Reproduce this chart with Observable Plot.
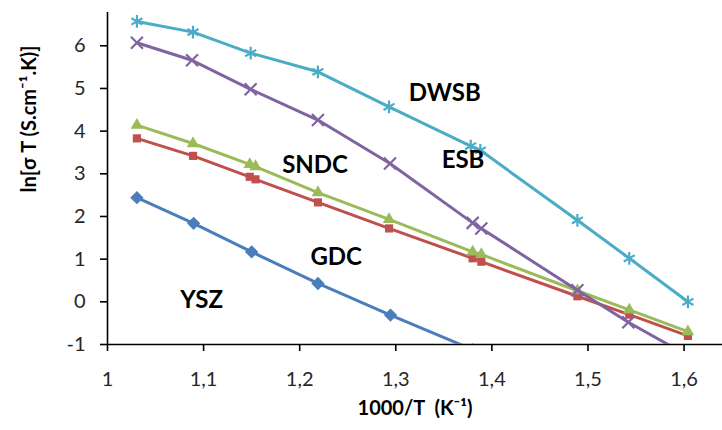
<!DOCTYPE html>
<html>
<head>
<meta charset="utf-8">
<script src="https://cdn.jsdelivr.net/npm/d3@7"></script>
<script src="https://cdn.jsdelivr.net/npm/@observablehq/plot@0.6"></script>
<style>
  html, body { margin: 0; padding: 0; background: #fff; }
</style>
</head>
<body>
<div id="chart"></div>
<script>
// ---- data ----
const xYSZ  = [1.0306, 1.0896, 1.150, 1.219, 1.2945, 1.380];
const ysz   = [2.44, 1.84, 1.17, 0.43, -0.31, -1.12];

const xGDC  = [1.0306, 1.089, 1.148, 1.154, 1.219, 1.293, 1.380, 1.389, 1.489, 1.543, 1.604];
const gdc   = [3.83, 3.42, 2.93, 2.87, 2.33, 1.72, 1.02, 0.94, 0.13, -0.30, -0.80];

const xSNDC = [1.0306, 1.089, 1.148, 1.154, 1.219, 1.293, 1.380, 1.389, 1.489, 1.543, 1.604];
const sndc  = [4.14, 3.71, 3.22, 3.17, 2.56, 1.93, 1.17, 1.11, 0.26, -0.19, -0.70];

const xESB  = [1.0306, 1.088, 1.149, 1.219, 1.294, 1.380, 1.389, 1.489, 1.542, 1.604];
const esb   = [6.07, 5.66, 4.98, 4.26, 3.24, 1.85, 1.72, 0.27, -0.48, -1.26];

const xDWSB = [1.0306, 1.089, 1.149, 1.219, 1.293, 1.378, 1.388, 1.489, 1.543, 1.604];
const dwsb  = [6.57, 6.32, 5.83, 5.39, 4.57, 3.65, 3.55, 1.91, 1.02, 0.00];

const seriesNames = ["YSZ", "GDC", "SNDC", "ESB", "DWSB"];
const labelX = [1.098, 1.238, 1.216, 1.370, 1.351];
const labelY = [0.04, 1.05, 3.20, 3.32, 4.89];

const xTicks = [1, 1.1, 1.2, 1.3, 1.4, 1.5, 1.6];
const yTicks = [-1, 0, 1, 2, 3, 4, 5, 6];
const xTitle = "1000/T  (K⁻¹)";
const yTitle = "ln[σ T (S.cm⁻¹.K)]";

// ---- build tables ----
const mk = (xs, ys, name) => xs.map((x, i) => ({x, y: ys[i], name}));
const series = [
  {name: "YSZ",  data: mk(xYSZ, ysz, "YSZ"),   color: "#4A7EBB", symbol: "diamond2", r: 6, sw: 0},
  {name: "GDC",  data: mk(xGDC, gdc, "GDC"),   color: "#C0504D", symbol: "square2", r: 5.2, sw: 0},
  {name: "SNDC", data: mk(xSNDC, sndc, "SNDC"), color: "#9BBB59", symbol: "triangle2", r: 6, sw: 0},
  {name: "ESB",  data: mk(xESB, esb, "ESB"),   color: "#8064A2", symbol: "times", r: 5.5, sw: 2.2},
  {name: "DWSB", data: mk(xDWSB, dwsb, "DWSB"), color: "#4BACC6", symbol: "asterisk", r: 6, sw: 2.2}
];
const labels = seriesNames.map((n, i) => ({x: labelX[i], y: labelY[i], text: n}));

const FONT = "Lato, 'Open Sans', sans-serif";
const TXT = "#262626";

const marks = [
  Plot.ruleX([1], {stroke: "#000", strokeWidth: 1.6}),
  Plot.ruleY([-1], {stroke: "#000", strokeWidth: 1.6}),
  Plot.axisX({ticks: xTicks, tickFormat: d => String(d).replace(".", ","), tickSize: 7,
              tickPadding: 20, fontSize: 20, label: null, stroke: "#000", strokeWidth: 1.6, color: TXT}),
  Plot.axisY({ticks: yTicks, tickFormat: d => String(d), tickSize: 7,
              tickPadding: 15, fontSize: 20, label: null, stroke: "#000", strokeWidth: 1.6, color: TXT})
];
for (const s of series) {
  marks.push(Plot.line(s.data, {x: "x", y: "y", stroke: s.color, strokeWidth: 3, clip: true}));
  if (s.sw) {
    marks.push(Plot.dot(s.data, {x: "x", y: "y", symbol: s.symbol, r: s.r, stroke: s.color, strokeWidth: s.sw, clip: true}));
  } else {
    marks.push(Plot.dot(s.data, {x: "x", y: "y", symbol: s.symbol, r: s.r, fill: s.color, stroke: "none", clip: true}));
  }
}
marks.push(Plot.text(labels, {x: "x", y: "y", text: "text", fontSize: 24, fontWeight: "bold", fill: "#000"}));
marks.push(Plot.text([xTitle], {frameAnchor: "bottom", dy: 70, fontSize: 20, fontWeight: "bold", fill: "#000"}));
marks.push(Plot.text([yTitle], {frameAnchor: "left", rotate: -90, dx: -78, dy: 14, fontSize: 20, fontWeight: "bold", fill: "#000"}));

const chart = Plot.plot({
  width: 722,
  height: 430,
  marginLeft: 107,
  marginRight: 0,
  marginTop: 12,
  marginBottom: 86,
  x: {domain: [1, 1.64]},
  y: {domain: [-1, 6.78]},
  style: {fontFamily: FONT, background: "#fff", overflow: "visible"},
  marks
});
document.getElementById("chart").appendChild(chart);
</script>
</body>
</html>
